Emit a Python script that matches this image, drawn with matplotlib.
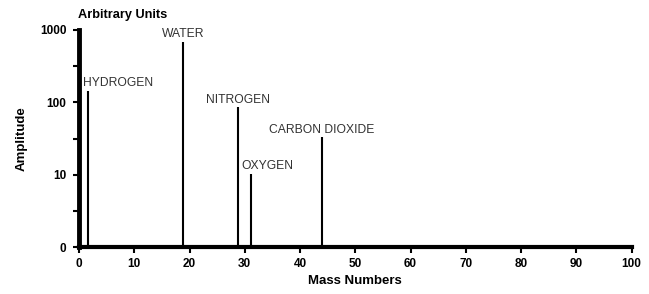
import matplotlib.pyplot as plt
from matplotlib.ticker import FixedLocator, FixedFormatter

plt.rcParams['font.family'] = ['Liberation Sans', 'DejaVu Sans']

# data
gases = ["HYDROGEN", "WATER", "NITROGEN", "OXYGEN", "CARBON DIOXIDE"]
mass = [1.7, 18.9, 28.7, 31.2, 44.0]
amplitude = [145, 680, 86, 10.3, 33]

y_ticks = [1, 10, 100, 1000]
y_tick_labels = ["0", "10", "100", "1000"]
y_minor = [3.16, 31.6, 316]
x_ticks = list(range(0, 101, 10))

# label placement (ha, x offset in points)
label_style = [("left", -4), ("center", 0), ("center", 0), ("left", -7), ("center", 0)]

fig = plt.figure(figsize=(6.49, 2.94), dpi=100)
ax = fig.add_axes([0.1217, 0.1588, 0.8516, 0.7392])

ax.vlines(mass, 1, amplitude, color="black", linewidth=1.5)
for g, x, a, (ha, dx) in zip(gases, mass, amplitude, label_style):
    ax.annotate(g, (x, a), xytext=(dx, 1.2), textcoords="offset points",
                ha=ha, va="bottom", fontsize=8.7, color="#333333")

ax.set_yscale("log")
ax.set_ylim(1, 1000)
ax.set_xlim(0, 100)
ax.yaxis.set_major_locator(FixedLocator(y_ticks))
ax.yaxis.set_major_formatter(FixedFormatter(y_tick_labels))
ax.yaxis.set_minor_locator(FixedLocator(y_minor))
ax.yaxis.set_minor_formatter(FixedFormatter([]))
ax.set_xticks(x_ticks)

for s in ["top", "right"]:
    ax.spines[s].set_visible(False)
ax.spines["left"].set_linewidth(3.5)
ax.spines["bottom"].set_linewidth(3)
ax.tick_params(axis="both", which="both", width=1.5, length=4, labelsize=8.5)
ax.tick_params(axis="y", pad=5)
for lab in ax.get_xticklabels() + ax.get_yticklabels():
    lab.set_fontweight("bold")

ax.set_xlabel("Mass Numbers", fontsize=9.5, fontweight="bold", labelpad=4)
ax.set_ylabel("Amplitude", fontsize=9.5, fontweight="bold", labelpad=9)
fig.text(0.12, 0.95, "Arbitrary Units", fontsize=9.2, fontweight="bold", ha="left", va="center")

fig.savefig("out.png", dpi=100)
